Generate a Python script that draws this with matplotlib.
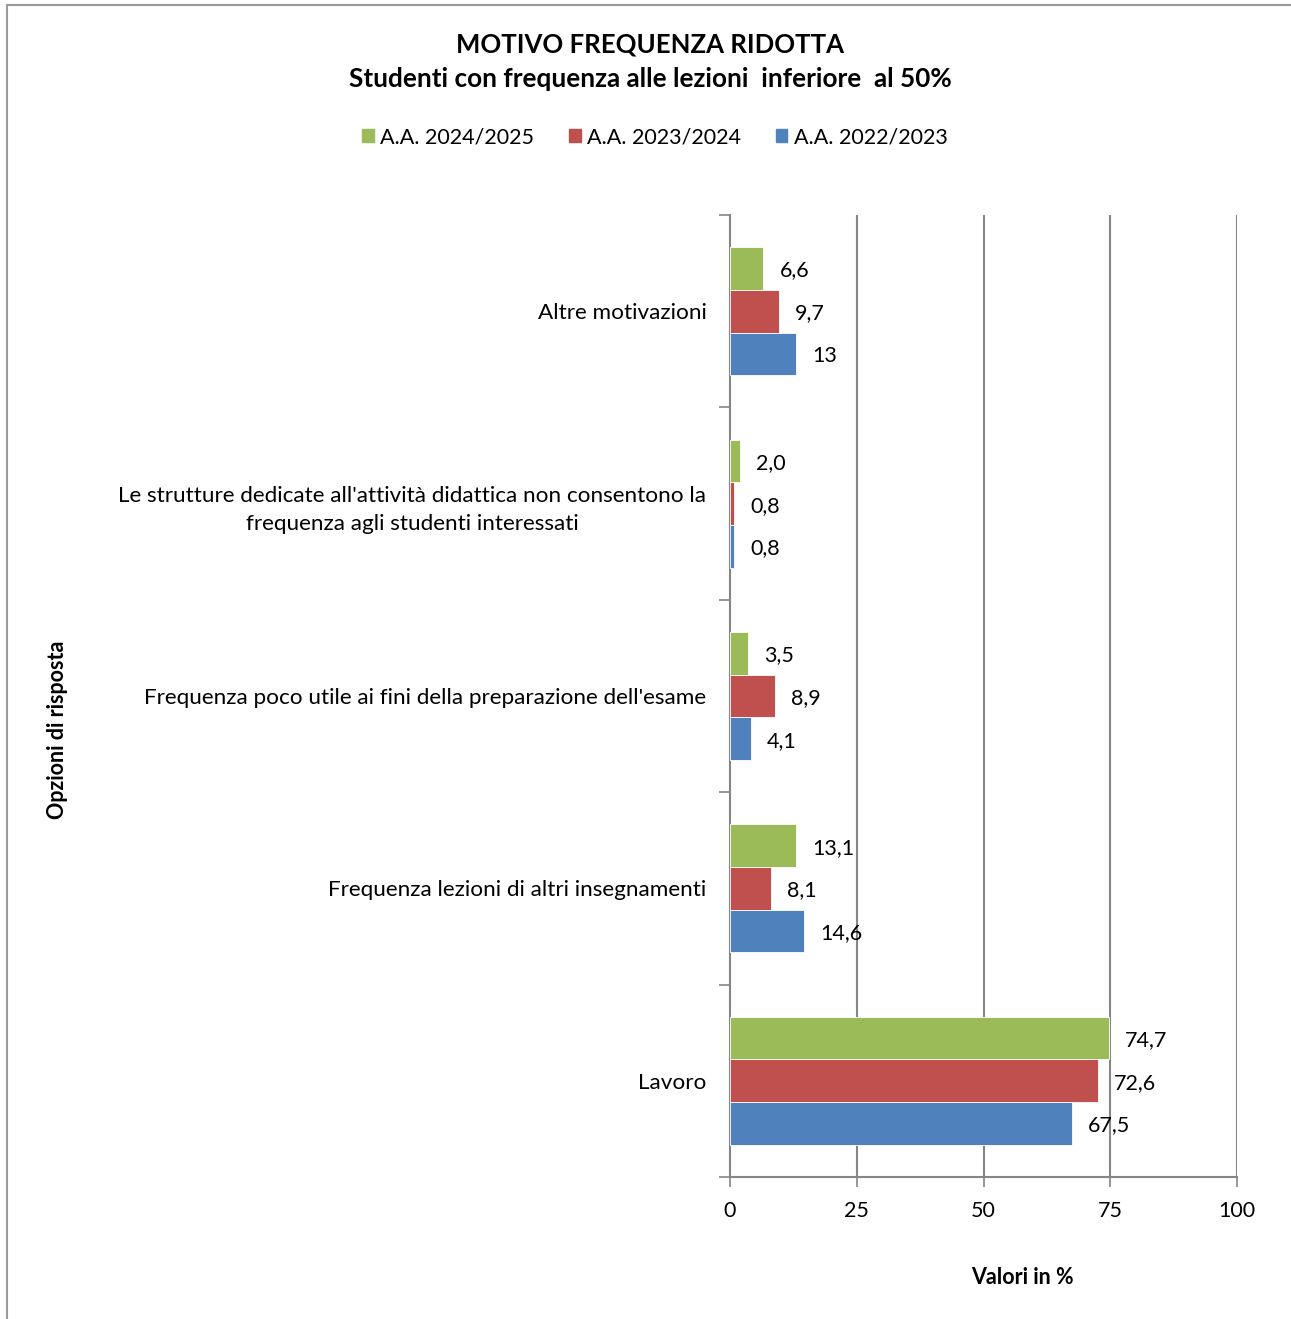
import numpy as np
import matplotlib.pyplot as plt
from matplotlib.lines import Line2D
from matplotlib.patches import Patch

plt.rcParams['font.family'] = ['Lato', 'DejaVu Sans']

categorie = ["Altre motivazioni",
             "Le strutture dedicate all'attività didattica non consentono la\nfrequenza agli studenti interessati",
             "Frequenza poco utile ai fini della preparazione dell'esame",
             "Frequenza lezioni di altri insegnamenti",
             "Lavoro"]
serie = ["A.A. 2024/2025", "A.A. 2023/2024", "A.A. 2022/2023"]
val_2425 = [6.6, 2.0, 3.5, 13.1, 74.7]
val_2324 = [9.7, 0.8, 8.9, 8.1, 72.6]
val_2223 = [13.0, 0.8, 4.1, 14.6, 67.5]
lab_2425 = ["6,6", "2,0", "3,5", "13,1", "74,7"]
lab_2324 = ["9,7", "0,8", "8,9", "8,1", "72,6"]
lab_2223 = ["13", "0,8", "4,1", "14,6", "67,5"]
colori = ["#9BBB59", "#C0504D", "#4F81BD"]
xticks = [0, 25, 50, 75, 100]

W, H = 1291, 1319
fig = plt.figure(figsize=(W/100, H/100), dpi=100)
ax = fig.add_axes([730/W, 1-1177/H, (1237-730)/W, (1177-215)/H])

fs = 15.5
y = np.arange(len(categorie))
h = 0.222
grigio = "#868686"
for i, (vals, labs, col) in enumerate(zip([val_2425, val_2324, val_2223],
                                          [lab_2425, lab_2324, lab_2223], colori)):
    pos = y + (i-1)*h
    ax.barh(pos, vals, height=h, color=col, edgecolor='white', linewidth=0.6, zorder=3)
    for p, v, t in zip(pos, vals, labs):
        ax.annotate(t, (v, p), xytext=(16, -2), textcoords='offset pixels',
                    ha='left', va='center', fontsize=fs, zorder=4)

ax.set_xlim(0, 100)
ax.set_ylim(len(categorie)-0.5, -0.5)
ax.set_xticks(xticks)
ax.set_xticklabels([str(t) for t in xticks], fontsize=fs)
ax.tick_params(axis='x', direction='out', length=7, width=1.2, color=grigio, pad=10)
for t in xticks[1:]:
    ax.axvline(t, color=grigio, lw=1.5, zorder=1)

ax.set_yticks(np.arange(len(categorie)+1)-0.5)
ax.set_yticklabels([])
ax.tick_params(axis='y', direction='out', length=8, width=1.2, color=grigio)
ax.set_yticks(y, minor=True)
ax.set_yticklabels(categorie, minor=True, fontsize=16.2, multialignment='center',
                   linespacing=1.5)
ax.tick_params(axis='y', which='minor', length=0, pad=17)

for s in ['top', 'right']:
    ax.spines[s].set_visible(False)
for s in ['left', 'bottom']:
    ax.spines[s].set_color(grigio)
    ax.spines[s].set_linewidth(1.5)

fig.text(650/W, 1-44/H, "MOTIVO FREQUENZA RIDOTTA", ha='center', va='center',
         fontsize=18.5, fontweight='bold')
fig.text(650/W, 1-79/H, "Studenti con frequenza alle lezioni  inferiore  al 50%",
         ha='center', va='center', fontsize=18.8, fontweight='bold')

handles = [Patch(color=c) for c in colori]
fig.legend(handles, serie, loc='center', bbox_to_anchor=(655/W, 1-137/H), ncol=3,
           frameon=False, fontsize=fs, handlelength=0.55, handleheight=0.55,
           handletextpad=0.3, columnspacing=1.6)

fig.text(57/W, 1-730/H, "Opzioni di risposta", rotation=90, ha='center', va='center',
         fontsize=fs, fontweight='bold')
fig.text(1022/W, 1-1277/H, "Valori in %", ha='center', va='center',
         fontsize=fs, fontweight='bold')

fig.add_artist(Line2D([7/W, 7/W], [0, 1-5/H], color="#9a9a9a", lw=1.5))
fig.add_artist(Line2D([7/W, 1], [1-5/H, 1-5/H], color="#9a9a9a", lw=1.5))

fig.savefig("out.png", dpi=100)
